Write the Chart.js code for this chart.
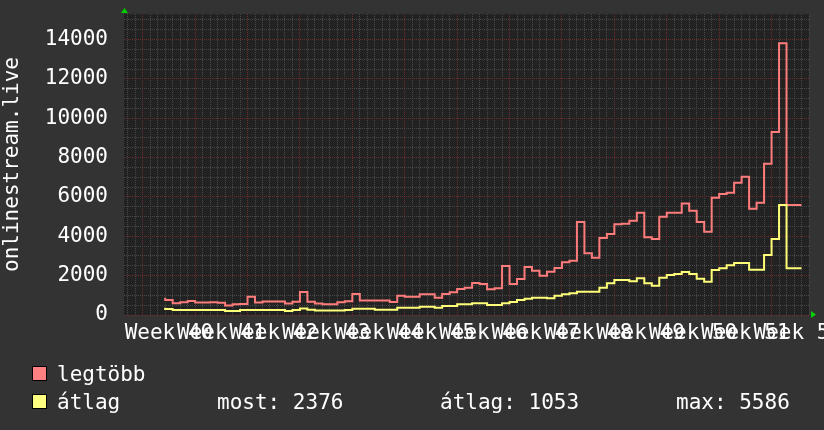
<!DOCTYPE html>
<html>
<head>
<meta charset="utf-8">
<script src="https://cdn.jsdelivr.net/npm/chart.js@4.4.1/dist/chart.umd.min.js"></script>
<style>
  body { margin: 0; background: #333; }
  #wrap { position: relative; width: 824px; height: 430px; background: #333; }
  .legend { position: absolute; color: #fff; font: 21px "DejaVu Sans Mono", monospace; line-height: 24px; white-space: pre; }
  .box { position: absolute; width: 13px; height: 13px; border: 1px solid #000; }
</style>
</head>
<body>
<div id="wrap">
  <canvas id="trafficChart" width="824" height="430"></canvas>
  <div class="box" style="left:32px;top:366px;background:#ff8080"></div>
  <div class="legend" style="left:57px;top:362px">legtöbb</div>
  <div class="box" style="left:32px;top:394px;background:#ffff80"></div>
  <div class="legend" style="left:57px;top:390px">átlag</div>
  <div class="legend" id="lgMost" style="left:217px;top:390px"></div>
  <div class="legend" id="lgAvg" style="left:440px;top:390px"></div>
  <div class="legend" id="lgMax" style="left:676px;top:390px"></div>
</div>
<script>
// Daily samples, first one is day 3 counted from the start of week 40
const firstDay = 3;
const weekLabels = ['Week 40', 'Week 41', 'Week 42', 'Week 43', 'Week 44', 'Week 45', 'Week 46',
                    'Week 47', 'Week 48', 'Week 49', 'Week 50', 'Week 51', 'Week 52'];
const yTickLabels = [0, 2000, 4000, 6000, 8000, 10000, 12000, 14000];

// legtöbb (max per day)
const maxValues = [
    879, 762, 594, 645, 716, 635, 635, 650, 625, 483, 543, 565, 930, 635,
    686, 686, 686, 584, 670, 1168, 676, 584, 549, 549, 645, 700, 1067, 735,
    735, 735, 735, 655, 980, 930, 930, 1052, 1052, 879, 1070, 1153, 1321, 1387,
    1625, 1575, 1305, 1356, 2489, 1575, 1829, 2438, 2250, 1997, 2200, 2388, 2677, 2758,
    4724, 3134, 2911, 3911, 4114, 4607, 4638, 4785, 5190, 3946, 3861, 4994, 5197, 5197,
    5672, 5300, 4724, 4233, 5960, 6147, 6214, 6722, 7027, 5400, 5705, 7687, 9297, 13803,
    5586
];

// átlag (average per day)
const avgValues = [
    372, 305, 254, 254, 254, 254, 254, 254, 254, 203, 203, 254, 254, 254,
    254, 254, 254, 203, 254, 330, 270, 230, 230, 230, 230, 254, 322, 322,
    322, 271, 271, 271, 372, 372, 372, 423, 423, 372, 457, 457, 542, 542,
    594, 594, 508, 508, 594, 660, 762, 828, 879, 879, 848, 980, 1052, 1102,
    1184, 1184, 1184, 1387, 1610, 1778, 1778, 1712, 1864, 1610, 1489, 1895, 2032, 2083,
    2184, 2083, 1844, 1692, 2286, 2372, 2525, 2642, 2642, 2303, 2303, 3048, 3861, 5586,
    2376
];

const legendMost = 2376;
const legendAvg = 1053;
const legendMax = 5586;

document.getElementById('lgMost').textContent = 'most: ' + legendMost;
document.getElementById('lgAvg').textContent = 'átlag: ' + legendAvg;
document.getElementById('lgMax').textContent = 'max: ' + legendMax;

// step points, plus one closing point so the last day gets its full width
function toSteps(values) {
    const pts = values.map((v, i) => ({ x: firstDay + i, y: v }));
    pts.push({ x: firstDay + values.length, y: values[values.length - 1] });
    return pts;
}

const FONT = { family: '"DejaVu Sans Mono", monospace', size: 21 };

const backgroundPlugin = {
    id: 'rrdBackground',
    beforeDraw(chart) {
        const { ctx, chartArea } = chart;
        ctx.save();
        ctx.fillStyle = '#333';
        ctx.fillRect(0, 0, chart.width, chart.height);
        ctx.fillStyle = '#222';
        ctx.fillRect(chartArea.left, chartArea.top, chartArea.right - chartArea.left, chartArea.bottom - chartArea.top);
        ctx.restore();
    },
    afterDraw(chart) {
        // little green arrows at the axis ends
        const { ctx, chartArea } = chart;
        ctx.save();
        ctx.fillStyle = '#00d000';
        ctx.beginPath();
        ctx.moveTo(chartArea.left - 3, chartArea.top - 1);
        ctx.lineTo(chartArea.left + 4, chartArea.top - 1);
        ctx.lineTo(chartArea.left + 0.5, chartArea.top - 6);
        ctx.closePath();
        ctx.fill();
        ctx.beginPath();
        ctx.moveTo(chartArea.right + 2, chartArea.bottom - 4);
        ctx.lineTo(chartArea.right + 2, chartArea.bottom + 3);
        ctx.lineTo(chartArea.right + 7, chartArea.bottom - 0.5);
        ctx.closePath();
        ctx.fill();
        ctx.restore();
    }
};

function createTrafficChart() {
    const ctx = document.getElementById('trafficChart');
    if (!ctx) return;

    new Chart(ctx.getContext('2d'), {
        type: 'line',
        data: {
            datasets: [
                {
                    label: 'legtöbb',
                    data: toSteps(maxValues),
                    borderColor: '#ff7c7c',
                    borderWidth: 2,
                    stepped: 'after',
                    pointRadius: 0,
                    order: 2
                },
                {
                    label: 'átlag',
                    data: toSteps(avgValues),
                    borderColor: '#ffff78',
                    borderWidth: 2,
                    stepped: 'after',
                    pointRadius: 0,
                    order: 1
                }
            ]
        },
        options: {
            responsive: false,
            animation: false,
            layout: { padding: { top: 14, right: 15, left: 0, bottom: 0 } },
            plugins: {
                legend: { display: false },
                tooltip: { enabled: false }
            },
            scales: {
                x: {
                    type: 'linear',
                    min: -2.5,
                    max: 89,
                    afterFit: scale => {
                        scale.height = 115;
                        scale.paddingLeft = 0;
                        scale.paddingRight = 0;
                    },
                    afterBuildTicks: scale => {
                        const ticks = [];
                        for (let v = -2.5; v <= 89; v += 0.5) ticks.push({ value: v });
                        scale.ticks = ticks;
                    },
                    ticks: {
                        autoSkip: false,
                        maxRotation: 0,
                        minRotation: 0,
                        padding: 6,
                        color: '#fff',
                        font: FONT,
                        callback: value => {
                            const k = (value - 3.5) / 7;
                            return Number.isInteger(k) && weekLabels[k] ? weekLabels[k] : '';
                        }
                    },
                    grid: {
                        drawTicks: false,
                        color: c => {
                            const v = c.tick.value;
                            if (!Number.isInteger(v)) return 'rgba(0,0,0,0)';
                            return v % 7 === 0 ? '#6a2c2c' : '#484848';
                        }
                    },
                    border: { display: false, dash: [1, 1] }
                },
                y: {
                    min: 0,
                    max: 15295,
                    afterFit: scale => {
                        scale.width = 124;
                        scale.paddingTop = 0;
                        scale.paddingBottom = 0;
                    },
                    afterBuildTicks: scale => {
                        const ticks = [];
                        for (let v = 0; v <= 15000; v += 500) ticks.push({ value: v });
                        scale.ticks = ticks;
                    },
                    ticks: {
                        autoSkip: false,
                        padding: 16,
                        color: '#fff',
                        font: FONT,
                        callback: value => yTickLabels.includes(value) ? String(value) : ''
                    },
                    grid: {
                        drawTicks: false,
                        color: c => c.tick.value % 2000 === 0 ? '#6a2c2c' : '#484848'
                    },
                    border: { display: false, dash: [1, 1] },
                    title: {
                        display: true,
                        text: 'onlinestream.live',
                        color: '#fff',
                        font: FONT,
                        padding: 0
                    }
                }
            }
        },
        plugins: [backgroundPlugin]
    });
}

document.addEventListener('DOMContentLoaded', function() {
    if (typeof Chart !== 'undefined') {
        createTrafficChart();
    }
});
</script>
</body>
</html>
